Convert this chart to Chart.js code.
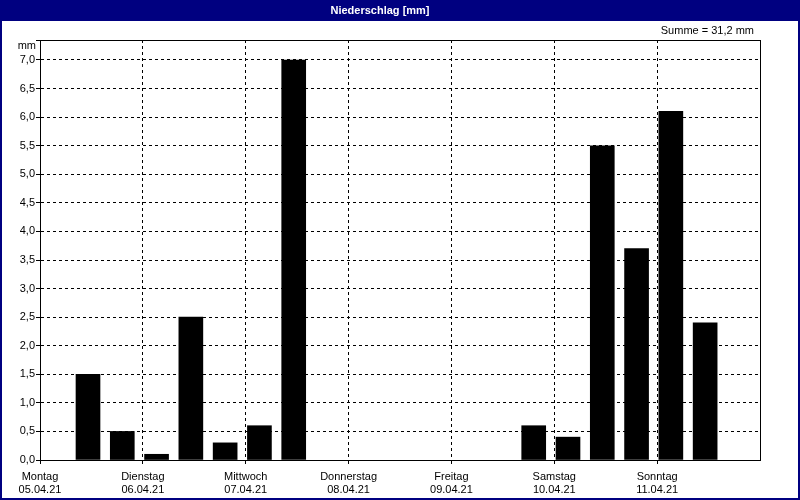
<!DOCTYPE html>
<html>
<head>
<meta charset="utf-8">
<script src="https://cdn.jsdelivr.net/npm/chart.js@4"></script>
<style>
  html, body { margin: 0; padding: 0; background: #fff; }
  #wrap { width: 800px; height: 500px; }
</style>
</head>
<body>
<div id="wrap"><canvas id="c" width="800" height="500"></canvas></div>
<script>
// Niederschlag, 8-Stunden-Summen (Zeit = Stunden ab Montag 00:00)
const hours = [11.2, 19.2, 27.2, 35.2, 43.2, 51.2, 59.2, 67.2, 75.2, 83.2, 91.2, 99.2, 107.2, 115.2, 123.2, 131.2, 139.2, 147.2, 155.2, 163.2];
const rain = [1.5, 0.5, 0.1, 2.5, 0.3, 0.6, 7.0, 0, 0, 0, 0, 0, 0, 0.6, 0.4, 5.5, 3.7, 6.1, 2.4, 0];
const dayNames = ['Montag', 'Dienstag', 'Mittwoch', 'Donnerstag', 'Freitag', 'Samstag', 'Sonntag'];
const dates = ['05.04.21', '06.04.21', '07.04.21', '08.04.21', '09.04.21', '10.04.21', '11.04.21'];
const title = 'Niederschlag [mm]';
const sumText = 'Summe = 31,2 mm';

const NAVY = '#000080';
const FONT = '"Liberation Sans", Arial, sans-serif';
Chart.defaults.font.family = FONT;
Chart.defaults.font.size = 11;
Chart.defaults.color = '#000';

const frame = {
  id: 'frame',
  beforeDraw(chart) {
    const ctx = chart.ctx;
    ctx.save();
    ctx.fillStyle = '#fff';
    ctx.fillRect(0, 0, chart.width, chart.height);
    ctx.fillStyle = NAVY;
    ctx.fillRect(0, 0, chart.width, 21);
    ctx.restore();
  },
  afterDraw(chart) {
    const ctx = chart.ctx;
    const a = chart.chartArea;
    ctx.save();
    ctx.strokeStyle = '#000';
    ctx.lineWidth = 1;
    ctx.strokeRect(Math.round(a.left) + 0.5, Math.round(a.top) + 0.5, Math.round(a.right - a.left), Math.round(a.bottom - a.top));
    ctx.strokeStyle = NAVY;
    ctx.lineWidth = 2;
    ctx.strokeRect(1, 1, chart.width - 2, chart.height - 2);
    ctx.fillStyle = '#000';
    ctx.font = '11px ' + FONT;
    ctx.textBaseline = 'middle';
    ctx.textAlign = 'right';
    ctx.fillText('mm', 36, 46);
    ctx.fillText(sumText, 754, 31);
    ctx.restore();
  }
};

new Chart(document.getElementById('c'), {
  type: 'bar',
  data: {
    datasets: [{
      data: hours.map((h, i) => ({ x: h, y: rain[i] > 0 ? rain[i] : null })),
      backgroundColor: '#000',
      borderWidth: 0,
      barThickness: 24
    }]
  },
  options: {
    responsive: false,
    animation: false,
    layout: { padding: { left: 0, right: 40, top: 0, bottom: 0 } },
    plugins: {
      legend: { display: false },
      tooltip: { enabled: false },
      title: {
        display: true, text: title, color: '#fff',
        font: { size: 11, weight: 'bold' },
        padding: { top: 4, bottom: 22.8 }
      }
    },
    scales: {
      x: {
        type: 'linear', min: 0, max: 168, offset: false,
        afterFit(s) { s.height = 40; },
        ticks: {
          stepSize: 24, maxRotation: 0, autoSkip: false, padding: 6,
          callback: (v) => { const i = Math.round(v / 24); return i < 7 ? [dayNames[i], dates[i]] : ''; }
        },
        grid: {
          color: '#000', lineWidth: 1, tickLength: 4, offset: false,
          tickColor: (c) => (c.tick && c.tick.value >= 168) ? 'rgba(0,0,0,0)' : '#000'
        },
        border: { display: true, color: '#000', dash: [3, 3] }
      },
      y: {
        min: 0, max: 7.35,
        afterFit(s) { s.width = 40; },
        ticks: {
          stepSize: 0.5, padding: 1,
          callback: (v) => v > 7.01 ? '' : v.toFixed(1).replace('.', ',')
        },
        grid: { color: '#000', lineWidth: 1, tickLength: 4 },
        border: { display: true, color: '#000', dash: [3, 3] }
      }
    }
  },
  plugins: [frame]
});
</script>
</body>
</html>
